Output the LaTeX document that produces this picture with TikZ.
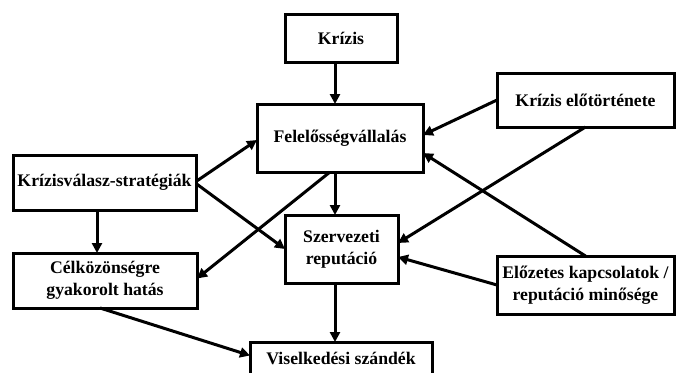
\documentclass[tikz,border=0pt]{standalone}
\usepackage{fontspec}
\setmainfont{Liberation Serif}
\usetikzlibrary{arrows.meta,calc}
\begin{document}
\begin{tikzpicture}[x=1pt,y=-1pt,
  box/.style={draw=black,line width=3pt,fill=white,inner sep=0pt,outer sep=0pt,
    align=center,font=\fontsize{17.7}{21.5}\selectfont\bfseries},
  link/.style={line width=3pt,-{Triangle[length=10pt,width=10pt]}}]
\useasboundingbox (0,0) rectangle (676,372);
\clip (0,0) rectangle (676,372);
% boxes
\node[box,minimum width=112pt,minimum height=48pt] (krizis) at (341,38) {Krízis};
\node[box,minimum width=166pt,minimum height=68pt] (fel) at (340,138) {Felelősségvállalás};
\node[box,minimum width=177pt,minimum height=54pt] (elo) at (585.5,100) {Krízis előtörténete};
\node[box,minimum width=183pt,minimum height=55pt] (strat) at (104.5,182.5) {Krízisválasz-stratégiák};
\node[box,minimum width=184pt,minimum height=55pt] (cel) at (105,280.5) {Célközönségre\\gyakorolt hatás};
\node[box,minimum width=113pt,minimum height=68pt] (szerv) at (341.5,249) {Szervezeti\\reputáció};
\node[box,minimum width=182pt,minimum height=33pt] (visel) at (341,358.5) {Viselkedési szándék};
\node[box,minimum width=177pt,minimum height=58pt] (elozetes) at (585.5,285) {Előzetes kapcsolatok /\\reputáció minősége};
% connectors
\draw[link] ($(krizis.south)+(-6,0)$) -- ($(fel.north)+(-5,0)$);
\draw[link] (elo.west) -- ($(fel.east)+(0,-3)$);
\draw[link] (elo.south) -- ($(szerv.east)+(0,-6)$);
\draw[link] (elozetes.north) -- ($(fel.east)+(0,15)$);
\draw[link] (elozetes.west) -- ($(szerv.east)+(0,8)$);
\draw[link] ($(strat.east)+(0,-1)$) -- ($(fel.west)+(0,2)$);
\draw[link] ($(strat.east)+(0,1)$) -- (szerv.west);
\draw[link] ($(fel.south)+(-10,0)$) -- ($(cel.east)+(0,-2)$);
\draw[link] ($(fel.south)+(-5,0)$) -- ($(szerv.north)+(-6.5,0)$);
\draw[link] ($(strat.south)+(-7.5,0)$) -- ($(cel.north)+(-8,0)$);
\draw[link] ($(cel.south)+(-5,0)$) -- ($(visel.west)+(0,-3)$);
\draw[link] ($(szerv.south)+(-6.5,0)$) -- ($(visel.north)+(-6,0)$);
\end{tikzpicture}
\end{document}
